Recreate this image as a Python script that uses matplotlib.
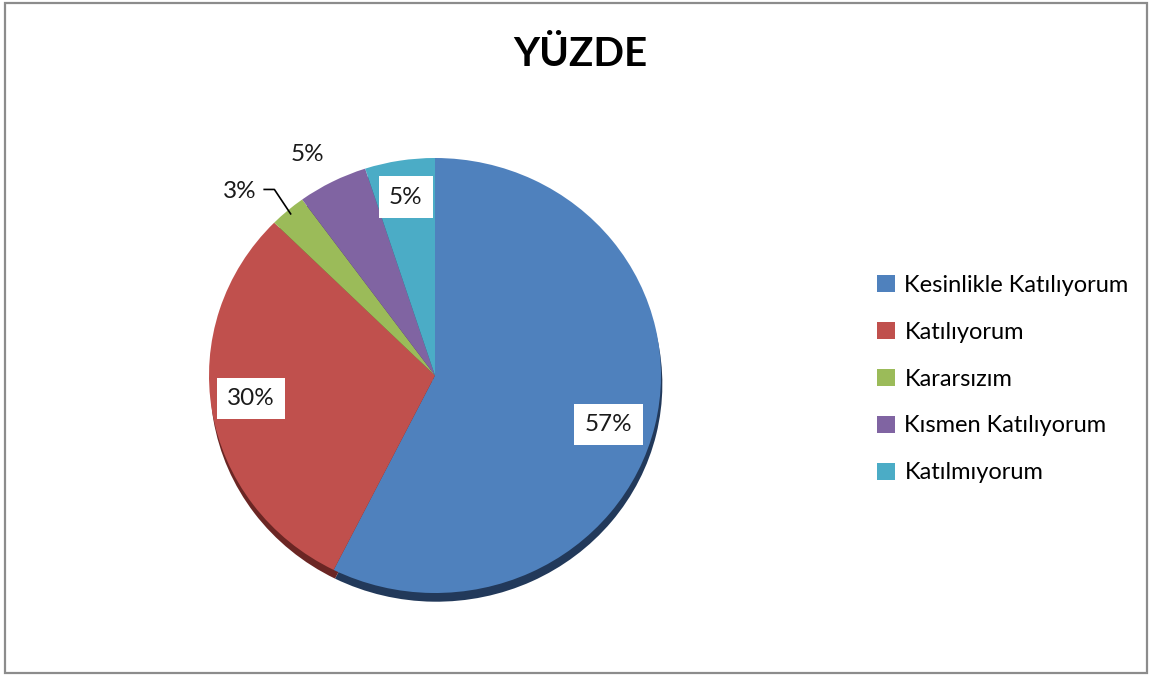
import numpy as np
import matplotlib.pyplot as plt
from matplotlib.patches import Rectangle

plt.rcParams["font.family"] = ["Lato", "DejaVu Sans"]

title = "YÜZDE"
categories = ["Kesinlikle Katılıyorum", "Katılıyorum", "Kararsızım",
              "Kısmen Katılıyorum", "Katılmıyorum"]
percent = [57.4, 30.0, 2.6, 5.0, 5.0]

colors = ["#4F81BD", "#C0504D", "#9BBB59", "#8064A2", "#4BACC6"]
shadow_colors = ["#22395a", "#6b2624", "#4d5e2a", "#3f3152", "#22566a"]

W, H = 1153, 677
fig = plt.figure(figsize=(W / 100, H / 100), dpi=100)

# pie geometry in pixels (slightly flattened, like the original)
cx, cy = 435, 375.5
rx, ry = 226, 217.5
L = 1.4
ax = fig.add_axes([(cx - L * rx) / W, (H - cy - L * ry) / H,
                   2 * L * rx / W, 2 * L * ry / H])

# dark rim under the pie
ax.pie(percent, colors=shadow_colors, startangle=90, counterclock=False,
       center=(0.006, -0.04), wedgeprops=dict(linewidth=0))
wedges, _ = ax.pie(percent, colors=colors, startangle=90, counterclock=False,
                   wedgeprops=dict(linewidth=0))
ax.set_aspect("auto")
ax.set_xlim(-L, L)
ax.set_ylim(-L, L)
ax.axis("off")

# label radius per slice, and whether the label gets a white box
label_r = [0.80, 0.82, 1.21, 1.16, 0.83]
label_dang = [-3, -2, 5, 2, 0]
boxed = [True, True, False, False, True]

for w, p, r, da, b in zip(wedges, percent, label_r, label_dang, boxed):
    ang = np.deg2rad((w.theta1 + w.theta2) / 2)
    x = r * np.cos(ang + np.deg2rad(da))
    y = r * np.sin(ang + np.deg2rad(da))
    kw = {}
    if b:
        kw["bbox"] = dict(boxstyle="square,pad=0.42", fc="white", ec="none")
    ax.text(x, y, f"{round(p)}%", ha="center", va="center", fontsize=17.5,
            color="#1a1a1a", **kw)
    if p < 4:
        ex, ey = 0.98 * np.cos(ang), 0.98 * np.sin(ang)
        ax.plot([x + 0.11, x + 0.155, ex], [y + 0.01, y + 0.01, ey],
                color="black", lw=1.2, clip_on=False)

# legend
leg = fig.legend(wedges, categories, loc="center left",
                 bbox_to_anchor=(856 / W, 1 - 379 / H), frameon=False,
                 fontsize=17, handlelength=0.75, handleheight=0.75,
                 handletextpad=0.4, labelspacing=1.1)

fig.text(580 / W, 1 - 54 / H, title, ha="center", va="center",
         fontsize=29, fontweight="bold")

fig.patches.append(Rectangle((5 / W, 4 / H), 1142 / W, 670 / H,
                             transform=fig.transFigure, fill=False,
                             ec="#8c8c8c", lw=1.6))

fig.savefig("out.png", dpi=100)
